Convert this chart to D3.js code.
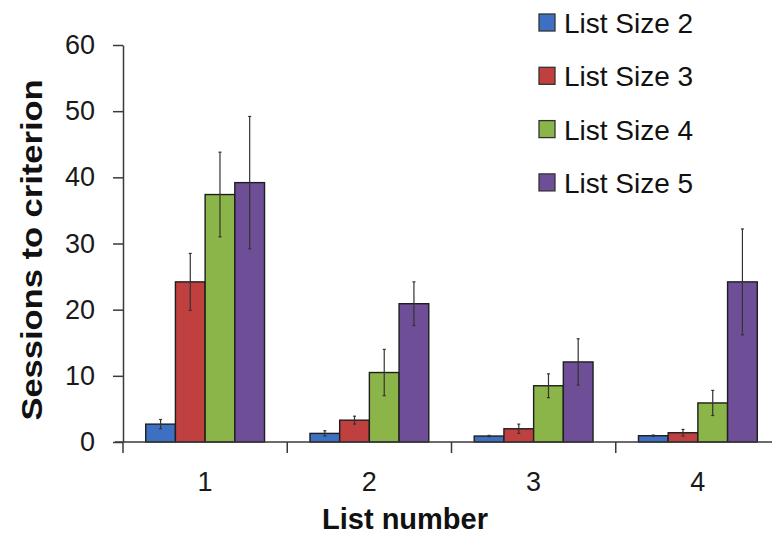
<!DOCTYPE html>
<html>
<head>
<meta charset="utf-8">
<script src="https://cdn.jsdelivr.net/npm/d3@7"></script>
<style>
  html, body { margin: 0; padding: 0; background: #fff; }
  svg { display: block; font-family: 'Liberation Sans', Arial, sans-serif; }
</style>
</head>
<body>
<svg id="chart"></svg>
<script>
// data
const lists = ['1', '2', '3', '4'];
const series = ['List Size 2', 'List Size 3', 'List Size 4', 'List Size 5'];
const means = [
  [2.7, 1.3, 0.9, 0.95],   // List Size 2
  [24.2, 3.3, 2.0, 1.4],   // List Size 3
  [37.4, 10.5, 8.5, 5.9],  // List Size 4
  [39.2, 20.9, 12.1, 24.2] // List Size 5
];
const errors = [
  [0.7, 0.4, 0.1, 0.1],
  [4.3, 0.6, 0.7, 0.5],
  [6.4, 3.5, 1.8, 1.9],
  [10.0, 3.3, 3.5, 8.0]
];
const yTicks = [0, 10, 20, 30, 40, 50, 60];
const colors = ['#3d70c2', '#c0403f', '#8bb548', '#6f4e98'];

const width = 772, height = 537;
const margin = { top: 45, right: -8, bottom: 95, left: 123 };

const svg = d3.select('#chart')
  .attr('width', width)
  .attr('height', height)
  .attr('viewBox', [0, 0, width, height]);

const x0 = d3.scaleBand(lists, [margin.left, width - margin.right]).paddingInner(0).paddingOuter(0);
const x1 = d3.scaleBand(d3.range(series.length), [0, x0.bandwidth()]).paddingInner(0).paddingOuter(0.765);
const y = d3.scaleLinear([0, 60], [height - margin.bottom, margin.top]);

const axisColor = '#3a3a3a';

// bars
const groups = svg.append('g')
  .selectAll('g')
  .data(lists)
  .join('g')
  .attr('transform', (d) => `translate(${x0(d)},0)`);

groups.selectAll('rect')
  .data((d, i) => series.map((s, j) => ({ j, v: means[j][i], e: errors[j][i] })))
  .join('rect')
  .attr('x', (d) => x1(d.j))
  .attr('width', x1.bandwidth())
  .attr('y', (d) => y(d.v))
  .attr('height', (d) => y(0) - y(d.v))
  .attr('fill', (d) => colors[d.j])
  .attr('stroke', '#1e1e1e')
  .attr('stroke-width', 1.4);

// error bars
const eb = groups.selectAll('g.err')
  .data((d, i) => series.map((s, j) => ({ j, v: means[j][i], e: errors[j][i] })))
  .join('g')
  .attr('class', 'err')
  .attr('stroke', '#333')
  .attr('stroke-width', 1.2);

eb.append('line')
  .attr('x1', (d) => x1(d.j) + x1.bandwidth() / 2)
  .attr('x2', (d) => x1(d.j) + x1.bandwidth() / 2)
  .attr('y1', (d) => y(d.v + d.e))
  .attr('y2', (d) => y(d.v - d.e));
eb.selectAll('line.cap')
  .data((d) => [d.v + d.e, d.v - d.e].map((v) => ({ j: d.j, v })))
  .join('line')
  .attr('class', 'cap')
  .attr('x1', (d) => x1(d.j) + x1.bandwidth() / 2 - 1.5)
  .attr('x2', (d) => x1(d.j) + x1.bandwidth() / 2 + 1.5)
  .attr('y1', (d) => y(d.v))
  .attr('y2', (d) => y(d.v));

// y axis
svg.append('g')
  .attr('transform', `translate(${margin.left},0)`)
  .call(d3.axisLeft(y).tickValues(yTicks).tickSize(10).tickSizeOuter(0).tickPadding(18))
  .call((g) => g.select('.domain').attr('stroke', axisColor).attr('stroke-width', 1.5))
  .call((g) => g.selectAll('.tick line').attr('stroke', axisColor).attr('stroke-width', 1.5))
  .call((g) => g.selectAll('.tick text')
    .attr('fill', '#1a1a1a')
    .attr('font-size', 27)
    .attr('font-family', "'Liberation Sans', Arial, sans-serif"));

// x axis: line plus boundary ticks, labels at band centres
const xg = svg.append('g').attr('transform', `translate(0,${y(0)})`);
xg.append('line')
  .attr('x1', margin.left - 8)
  .attr('x2', width - margin.right)
  .attr('stroke', axisColor)
  .attr('stroke-width', 1.5);
xg.selectAll('line.tick')
  .data(lists)
  .join('line')
  .attr('class', 'tick')
  .attr('x1', (d) => x0(d))
  .attr('x2', (d) => x0(d))
  .attr('y1', 0)
  .attr('y2', 11)
  .attr('stroke', axisColor)
  .attr('stroke-width', 1.5);
xg.selectAll('text')
  .data(lists)
  .join('text')
  .attr('x', (d) => x0(d) + x0.bandwidth() / 2)
  .attr('y', 49)
  .attr('text-anchor', 'middle')
  .attr('font-size', 27)
  .attr('fill', '#1a1a1a')
  .text((d) => d);

// axis titles
svg.append('text')
  .attr('x', 405)
  .attr('y', 529)
  .attr('text-anchor', 'middle')
  .attr('font-size', 29)
  .attr('font-weight', 'bold')
  .attr('fill', '#111')
  .text('List number');

// the title is drawn a little stretched along its length, as in the source
svg.append('text')
  .attr('transform', 'translate(42,250) rotate(-90) scale(1.19,1)')
  .attr('text-anchor', 'middle')
  .attr('font-size', 29)
  .attr('font-weight', 'bold')
  .attr('fill', '#111')
  .text('Sessions to criterion');

// legend
const legend = svg.append('g')
  .selectAll('g')
  .data(series)
  .join('g')
  .attr('transform', (d, i) => `translate(539,${33 + i * 53.3})`);
legend.append('rect')
  .attr('x', 0)
  .attr('y', -19)
  .attr('width', 16)
  .attr('height', 17)
  .attr('fill', (d, i) => colors[i])
  .attr('stroke', '#333')
  .attr('stroke-width', 1.3);
legend.append('text')
  .attr('x', 25)
  .attr('y', 0)
  .attr('font-size', 28)
  .attr('fill', '#111')
  .text((d) => d);
</script>
</body>
</html>
